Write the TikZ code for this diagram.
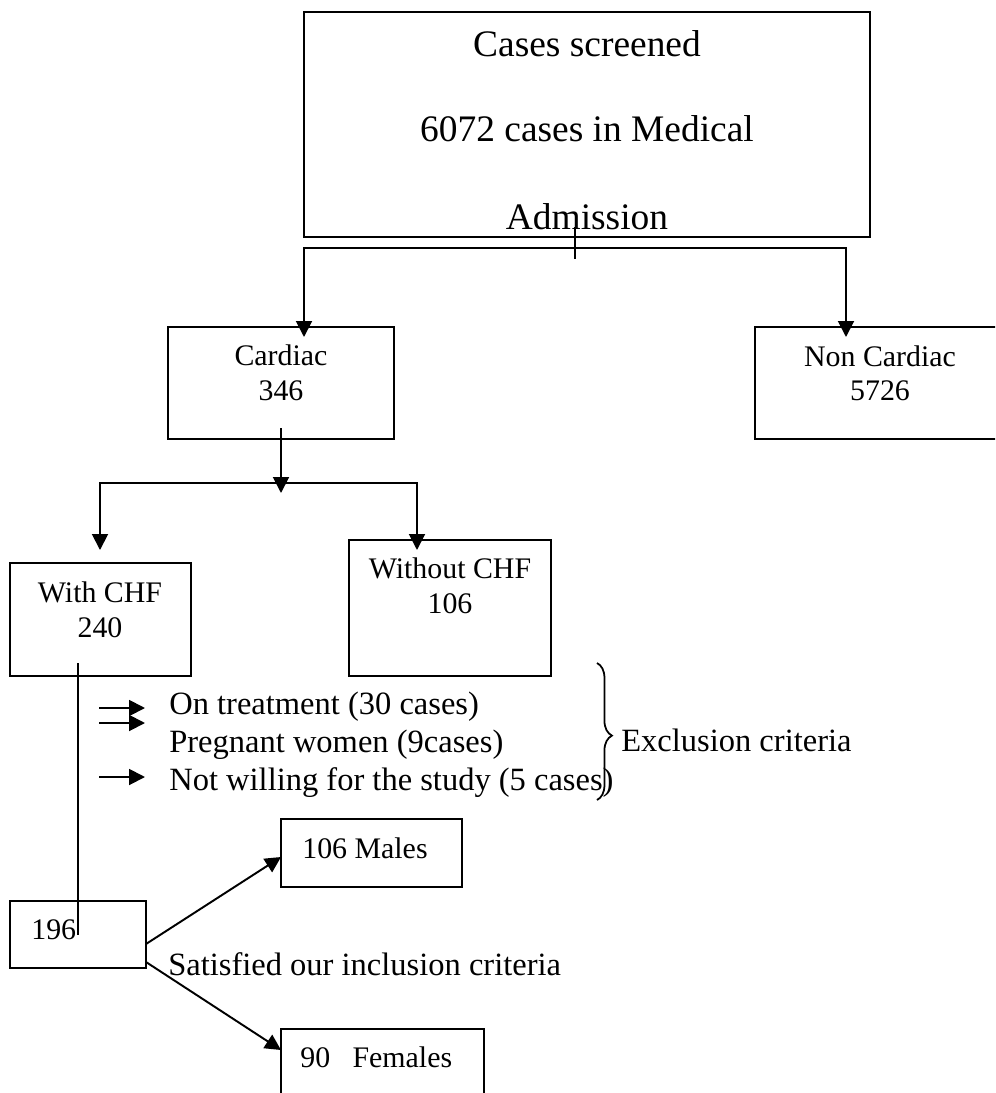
\documentclass[tikz,border=0pt]{standalone}
\usepackage{fontspec}
\setmainfont{Liberation Serif}
\usetikzlibrary{arrows.meta,decorations.pathreplacing}

\tikzset{
  box/.style={draw,line width=1.1pt,inner sep=0pt},
  line/.style={line width=1.1pt},
  arr/.style={line width=1.1pt,-{Triangle[length=9pt,width=9pt]}},
  bigtext/.style={font=\fontsize{21.3}{24}\selectfont,inner sep=0pt,anchor=base},
  boxtext/.style={font=\fontsize{17}{20}\selectfont,inner sep=0pt,anchor=base},
  listtext/.style={font=\fontsize{18.5}{22}\selectfont,inner sep=0pt,anchor=base west}
}

\begin{document}
\begin{tikzpicture}[x=0.02cm,y=-0.02cm]
        \useasboundingbox (0,0) rectangle (995,1093);
        \clip (0,0) rectangle (995,1093);
        % boxes
        \node[box,minimum width=11.32cm,minimum height=4.5cm] (screen) at (587,124.5) {};
        \node[box,minimum width=4.52cm,minimum height=2.24cm] (cardiac) at (281,383) {};
        \node[box,minimum width=5cm,minimum height=2.24cm] (noncardiac) at (880,383) {};
        \node[box,minimum width=3.62cm,minimum height=2.26cm] (withchf) at (100.5,619.5) {};
        \node[box,minimum width=4.04cm,minimum height=2.72cm] (withoutchf) at (450,608) {};
        \node[box,minimum width=2.72cm,minimum height=1.34cm] (total) at (78,934.5) {};
        \node[box,minimum width=3.62cm,minimum height=1.36cm] (males) at (371.5,853) {};
        \node[box,minimum width=4.06cm,minimum height=1.42cm] (females) at (382.5,1064.5) {};
        % box texts
        \node[bigtext] (screena) at (587,56) {Cases screened};
        \node[bigtext] (screenb) at (587,141) {6072 cases in Medical};
        \node[bigtext] (screenc) at (587,229) {Admission};
        \node[boxtext] (cardiaca) at (281,365) {Cardiac};
        \node[boxtext] (cardiacb) at (281,400) {346};
        \node[boxtext] (noncardiaca) at (880,366) {Non Cardiac};
        \node[boxtext] (noncardiacb) at (880,400) {5726};
        \node[boxtext] (withchfa) at (100,602) {With CHF};
        \node[boxtext] (withchfb) at (100,637) {240};
        \node[boxtext] (withoutchfa) at (450,578) {Without CHF};
        \node[boxtext] (withoutchfb) at (450,613) {106};
        \node[boxtext,anchor=base west] (totala) at (31,939) {196};
        \node[boxtext,anchor=base west] (malesa) at (302,858) {106 Males};
        \node[boxtext,anchor=base west] (femalesa) at (300,1067) {90~~~Females};
        % exclusion list
        \node[listtext] (exa) at (169,714) {On treatment (30 cases)};
        \node[listtext] (exb) at (169,752) {Pregnant women (9cases)};
        \node[listtext] (exc) at (169,790) {Not willing for the study (5 cases)};
        \node[listtext] (exlabel) at (621,751) {Exclusion criteria};
        \node[listtext] (inlabel) at (168,975) {Satisfied our inclusion criteria};
        % connectors
        \coordinate (tick1a) at (575,227);
        \coordinate (tick1b) at (575,259);
        \coordinate (split1) at (575,248);
        \coordinate (cardin) at (304,337);
        \coordinate (noncardin) at (846,337);
        \draw[line] (tick1a) -- (tick1b);
        \draw[arr] (split1) -| (cardin);
        \draw[arr] (split1) -| (noncardin);
        \coordinate (cardout) at (281,428);
        \coordinate (split2tip) at (281,493);
        \coordinate (split2) at (281,483);
        \coordinate (within) at (100,550);
        \coordinate (withoutin) at (417,550);
        \draw[arr] (cardout) -- (split2tip);
        \draw[arr] (split2) -| (within);
        \draw[arr] (split2) -| (withoutin);
        \coordinate (chfout) at (78,663);
        \coordinate (totalin) at (78,935);
        \draw[line] (chfout) -- (totalin);
        \coordinate (ex1a) at (99,708);
        \coordinate (ex1b) at (145,708);
        \coordinate (ex2a) at (99,723);
        \coordinate (ex2b) at (145,723);
        \coordinate (ex3a) at (99,777);
        \coordinate (ex3b) at (145,777);
        \draw[arr] (ex1a) -- (ex1b);
        \draw[arr] (ex2a) -- (ex2b);
        \draw[arr] (ex3a) -- (ex3b);
        \coordinate (bracetop) at (597,663);
        \coordinate (bracebot) at (597,800);
        \draw[line,line width=1pt,decorate,decoration={brace,amplitude=8.5pt,aspect=0.53}] (bracetop) -- (bracebot);
        \coordinate (totalup) at (146,944);
        \coordinate (malesin) at (281,857);
        \coordinate (totaldown) at (146,962);
        \coordinate (femalesin) at (281,1050);
        \draw[arr] (totalup) -- (malesin);
        \draw[arr] (totaldown) -- (femalesin);
\end{tikzpicture}
\end{document}
